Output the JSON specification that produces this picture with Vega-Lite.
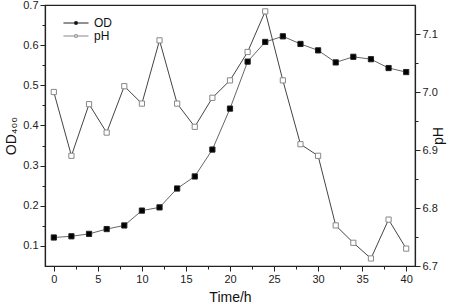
{
  "$schema": "https://vega.github.io/schema/vega-lite/v6.json",
  "width": 370,
  "height": 261,
  "autosize": "none",
  "padding": {"left": 45, "top": 5, "right": 39, "bottom": 38},
  "background": "white",
  "config": {
    "font": "Liberation Sans",
    "view": {"stroke": "#222", "strokeWidth": 1.2},
    "axis": {
      "domainColor": "#222",
      "domainWidth": 1.2,
      "tickColor": "#222",
      "tickWidth": 1,
      "labelFontSize": 11,
      "labelColor": "#222",
      "titleFontSize": 14,
      "titleFontWeight": "normal",
      "titleColor": "#111",
      "grid": false,
      "labelOverlap": false,
      "labelPadding": 2
    },
    "legend": {"padding": 0}
  },
  "data": {
    "values": [
      {"t": 0, "OD": 0.121, "pH": 7.0},
      {"t": 2, "OD": 0.124, "pH": 6.89},
      {"t": 4, "OD": 0.13, "pH": 6.979},
      {"t": 6, "OD": 0.142, "pH": 6.93},
      {"t": 8, "OD": 0.151, "pH": 7.01},
      {"t": 10, "OD": 0.188, "pH": 6.98},
      {"t": 12, "OD": 0.196, "pH": 7.089},
      {"t": 14, "OD": 0.243, "pH": 6.98},
      {"t": 16, "OD": 0.273, "pH": 6.94},
      {"t": 18, "OD": 0.34, "pH": 6.99},
      {"t": 20, "OD": 0.442, "pH": 7.02},
      {"t": 22, "OD": 0.559, "pH": 7.069},
      {"t": 24, "OD": 0.608, "pH": 7.139},
      {"t": 26, "OD": 0.622, "pH": 7.02},
      {"t": 28, "OD": 0.603, "pH": 6.91},
      {"t": 30, "OD": 0.587, "pH": 6.89},
      {"t": 32, "OD": 0.557, "pH": 6.77},
      {"t": 34, "OD": 0.571, "pH": 6.74},
      {"t": 36, "OD": 0.565, "pH": 6.713},
      {"t": 38, "OD": 0.543, "pH": 6.78},
      {"t": 40, "OD": 0.533, "pH": 6.73}
    ]
  },
  "encoding": {
    "x": {
      "field": "t",
      "type": "quantitative",
      "scale": {"domain": [-1, 41], "nice": false, "zero": false},
      "axis": {
        "title": "Time/h",
        "titlePadding": 6,
        "values": [0, 2.5, 5, 7.5, 10, 12.5, 15, 17.5, 20, 22.5, 25, 27.5, 30, 32.5, 35, 37.5, 40],
        "labelExpr": "datum.value % 5 == 0 ? datum.label : ''",
        "tickSize": {"condition": {"test": "datum.value % 5 == 0", "value": 5}, "value": 3}
      }
    }
  },
  "layer": [
    {
      "encoding": {
        "y": {
          "field": "OD",
          "type": "quantitative",
          "scale": {"domain": [0.05, 0.7], "nice": false, "zero": false},
          "axis": {
            "orient": "left",
            "title": "OD₄₀₀",
            "titlePadding": 4,
            "format": ".1f",
            "values": [0.1, 0.15, 0.2, 0.25, 0.3, 0.35, 0.4, 0.45, 0.5, 0.55, 0.6, 0.65, 0.7],
            "labelExpr": "abs(datum.value*10 - round(datum.value*10)) < 0.01 ? datum.label : ''",
            "tickSize": {"condition": {"test": "abs(datum.value*10 - round(datum.value*10)) < 0.01", "value": 5}, "value": 3}
          }
        }
      },
      "layer": [
        {"mark": {"type": "line", "color": "#666", "strokeWidth": 1}},
        {
          "mark": {"type": "point", "shape": "square", "size": 27, "filled": true, "strokeWidth": 1, "opacity": 1},
          "encoding": {
            "fill": {
              "datum": "OD",
              "scale": {"domain": ["OD", "pH"], "range": ["#000000", "#ffffff"]},
              "legend": {
                "title": null,
                "orient": "none",
                "legendX": 25,
                "legendY": 12,
                "symbolType": "M-3,0H-0.3M0.3,0H3M-0.3,-0.3H0.3V0.3H-0.3Z",
                "symbolSize": 70,
                "symbolStrokeWidth": 1,
                "labelFontSize": 12,
                "labelColor": "#111",
                "labelOffset": 12,
                "rowPadding": 1
              }
            },
            "stroke": {
              "datum": "OD",
              "scale": {"domain": ["OD", "pH"], "range": ["#222222", "#888888"]},
              "legend": {
                "title": null,
                "orient": "none",
                "legendX": 25,
                "legendY": 12,
                "symbolType": "M-3,0H-0.3M0.3,0H3M-0.3,-0.3H0.3V0.3H-0.3Z",
                "symbolSize": 70,
                "symbolStrokeWidth": 1,
                "labelFontSize": 12,
                "labelColor": "#111",
                "labelOffset": 12,
                "rowPadding": 1
              }
            }
          }
        }
      ]
    },
    {
      "encoding": {
        "y": {
          "field": "pH",
          "type": "quantitative",
          "scale": {"domain": [6.7, 7.15], "nice": false, "zero": false},
          "axis": {
            "orient": "right",
            "title": "pH",
            "titleAngle": 270,
            "titlePadding": 8,
            "format": ".1f",
            "values": [6.7, 6.75, 6.8, 6.85, 6.9, 6.95, 7.0, 7.05, 7.1],
            "labelExpr": "abs(datum.value*10 - round(datum.value*10)) < 0.01 ? datum.label : ''",
            "tickSize": {"condition": {"test": "abs(datum.value*10 - round(datum.value*10)) < 0.01", "value": 5}, "value": 3}
          }
        }
      },
      "layer": [
        {"mark": {"type": "line", "color": "#444", "strokeWidth": 1}},
        {
          "mark": {"type": "point", "shape": "square", "size": 27, "filled": true, "strokeWidth": 1, "opacity": 1},
          "encoding": {
            "fill": {"datum": "pH"},
            "stroke": {"datum": "pH"}
          }
        }
      ]
    }
  ],
  "resolve": {"scale": {"y": "independent"}}
}
